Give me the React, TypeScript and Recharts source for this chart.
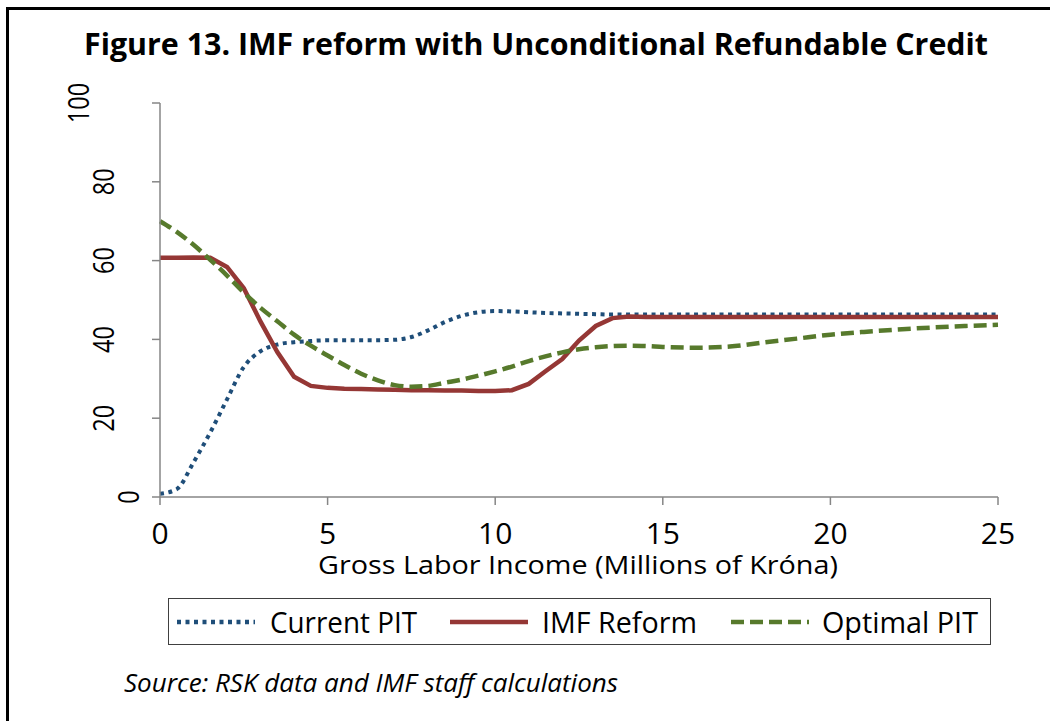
import React from "react";
import { LineChart, Line, XAxis, YAxis, Legend } from "recharts";

// income in millions of króna, rates in %
const income = [
  0, 0.5, 1, 1.5, 2, 2.5, 3, 3.5, 4, 4.5, 5, 5.5, 6, 6.5, 7, 7.5, 8, 8.5, 9,
  9.5, 10, 10.5, 11, 11.5, 12, 12.5, 13, 13.5, 14, 14.5, 15, 16, 17, 18, 19,
  20, 21, 22, 23, 24, 25,
];
const currentPit = [
  0.8, 2.0, 8.8, 16.4, 24.8, 33.0, 37.0, 38.7, 39.3, 39.6, 39.8, 39.8, 39.8,
  39.8, 39.9, 40.6, 42.3, 44.4, 46.0, 46.9, 47.2, 47.1, 46.9, 46.7, 46.6, 46.5,
  46.4, 46.3, 46.3, 46.3, 46.3, 46.3, 46.3, 46.3, 46.3, 46.3, 46.3, 46.3, 46.3,
  46.3, 46.3,
];
const imfReform = [
  60.7, 60.7, 60.8, 60.7, 58.4, 53.0, 44.5, 36.8, 30.5, 28.2, 27.7, 27.5, 27.4,
  27.3, 27.2, 27.1, 27.1, 27.0, 27.0, 26.9, 26.9, 27.1, 28.7, 31.9, 35.0, 39.7,
  43.4, 45.4, 45.8, 45.7, 45.7, 45.7, 45.7, 45.7, 45.7, 45.7, 45.7, 45.7, 45.7,
  45.7, 45.7,
];
const optimalPit = [
  70.0, 67.3, 64.0, 60.2, 56.2, 51.9, 48.0, 44.6, 41.2, 38.4, 35.9, 33.5, 31.3,
  29.6, 28.4, 28.0, 28.2, 29.0, 29.8, 30.8, 31.9, 33.1, 34.5, 35.7, 36.7, 37.5,
  38.0, 38.3, 38.4, 38.3, 38.1, 37.9, 38.2, 39.2, 40.2, 41.2, 41.9, 42.5, 43.0,
  43.4, 43.7,
];
const xTicks = [0, 5, 10, 15, 20, 25];
const yTicks = [0, 20, 40, 60, 80, 100];

const data = income.map((x, i) => ({
  income: x,
  current: currentPit[i],
  imf: imfReform[i],
  optimal: optimalPit[i],
}));

const FONT = "'Open Sans', 'DejaVu Sans', sans-serif";
const BLUE = "#1f4e79";
const RED = "#953735";
const GREEN = "#577a2c";
const AXIS = "#868686";
const PLOT_LEFT = 160;

// excel puts the rotated labels further left the longer they are
const YTick = (props: any) => {
  const { y, payload } = props;
  const s = String(payload.value);
  const cx = PLOT_LEFT - 7 - 25 * s.length;
  return (
    <text
      transform={`translate(${cx + 10.5}, ${y}) rotate(-90)`}
      textAnchor="middle"
      fontFamily={FONT}
      fontSize={29}
      fill="#000"
      textLength={13.5 * s.length}
      lengthAdjust="spacingAndGlyphs"
    >
      {s}
    </text>
  );
};

const XTick = (props: any) => {
  const { x, payload } = props;
  return (
    <text
      x={x}
      y={544}
      textAnchor="middle"
      fontFamily={FONT}
      fontSize={30}
      fill="#000"
    >
      {payload.value}
    </text>
  );
};

const legendItems = [
  { label: "Current PIT", color: BLUE, dash: "4 4.5", x: 9, tx: 102, tl: 147 },
  { label: "IMF Reform", color: RED, dash: undefined, x: 282, tx: 374, tl: 155 },
  { label: "Optimal PIT", color: GREEN, dash: "13 6", x: 563, tx: 654, tl: 156 },
];

const LegendBox = () => (
  <svg width={823} height={47} style={{ display: "block" }}>
    <rect x={0.5} y={0.5} width={822} height={46} fill="#fff" stroke="#404040" />
    {legendItems.map((it) => (
      <g key={it.label}>
        <line
          x1={it.x}
          x2={it.x + 78}
          y1={24}
          y2={24}
          stroke={it.color}
          strokeWidth={4.5}
          strokeDasharray={it.dash}
        />
        <text
          x={it.tx}
          y={35}
          fontFamily={FONT}
          fontSize={29}
          fill="#000"
          textLength={it.tl}
          lengthAdjust="spacingAndGlyphs"
        >
          {it.label}
        </text>
      </g>
    ))}
  </svg>
);

export default function App() {
  return (
    <div
      style={{
        position: "absolute",
        left: 0,
        top: 0,
        width: 1050,
        height: 721,
        overflow: "hidden",
        background: "#fff",
      }}
    >
      <div
        style={{
          position: "absolute",
          left: 6,
          top: 7,
          width: 1200,
          height: 900,
          borderTop: "3px solid #000",
          borderLeft: "3px solid #000",
        }}
      />
      <LineChart
        width={1050}
        height={721}
        data={data}
        margin={{ top: 103, right: 52, bottom: 184, left: 100 }}
        style={{ position: "absolute", left: 0, top: 0 }}
      >
        <XAxis
          dataKey="income"
          type="number"
          domain={[0, 25]}
          ticks={xTicks}
          height={40}
          tickSize={8}
          axisLine={{ stroke: AXIS, strokeWidth: 1.5 }}
          tickLine={{ stroke: AXIS, strokeWidth: 1.5 }}
          tick={<XTick />}
        />
        <YAxis
          domain={[0, 100]}
          ticks={yTicks}
          width={60}
          tickSize={8}
          axisLine={{ stroke: AXIS, strokeWidth: 1.5 }}
          tickLine={{ stroke: AXIS, strokeWidth: 1.5 }}
          tick={<YTick />}
        />
        <Line
          type="monotone"
          dataKey="current"
          name="Current PIT"
          stroke={BLUE}
          strokeWidth={4}
          strokeDasharray="4 4.5"
          dot={false}
          isAnimationActive={false}
        />
        <Line
          type="linear"
          dataKey="imf"
          name="IMF Reform"
          stroke={RED}
          strokeWidth={4.5}
          dot={false}
          isAnimationActive={false}
        />
        <Line
          type="monotone"
          dataKey="optimal"
          name="Optimal PIT"
          stroke={GREEN}
          strokeWidth={4.5}
          strokeDasharray="13 6"
          dot={false}
          isAnimationActive={false}
        />
        <Legend
          layout="horizontal"
          verticalAlign="middle"
          align="center"
          content={() => <LegendBox />}
          wrapperStyle={{ left: 168, top: 598, width: 823, height: 47 }}
        />
      </LineChart>
      <svg
        width={1050}
        height={721}
        style={{ position: "absolute", left: 0, top: 0, pointerEvents: "none" }}
      >
        <text
          x={84}
          y={55}
          fontFamily={FONT}
          fontWeight={700}
          fontSize={31}
          fill="#000"
          textLength={904}
          lengthAdjust="spacingAndGlyphs"
        >
          Figure 13. IMF reform with Unconditional Refundable Credit
        </text>
        <text
          x={318}
          y={574}
          fontFamily={FONT}
          fontSize={26}
          fill="#000"
          textLength={520}
          lengthAdjust="spacingAndGlyphs"
        >
          Gross Labor Income (Millions of Króna)
        </text>
        <text
          x={124}
          y={692}
          fontFamily={FONT}
          fontStyle="italic"
          fontSize={26}
          fill="#000"
          textLength={494}
          lengthAdjust="spacingAndGlyphs"
        >
          Source: RSK data and IMF staff calculations
        </text>
      </svg>
    </div>
  );
}
